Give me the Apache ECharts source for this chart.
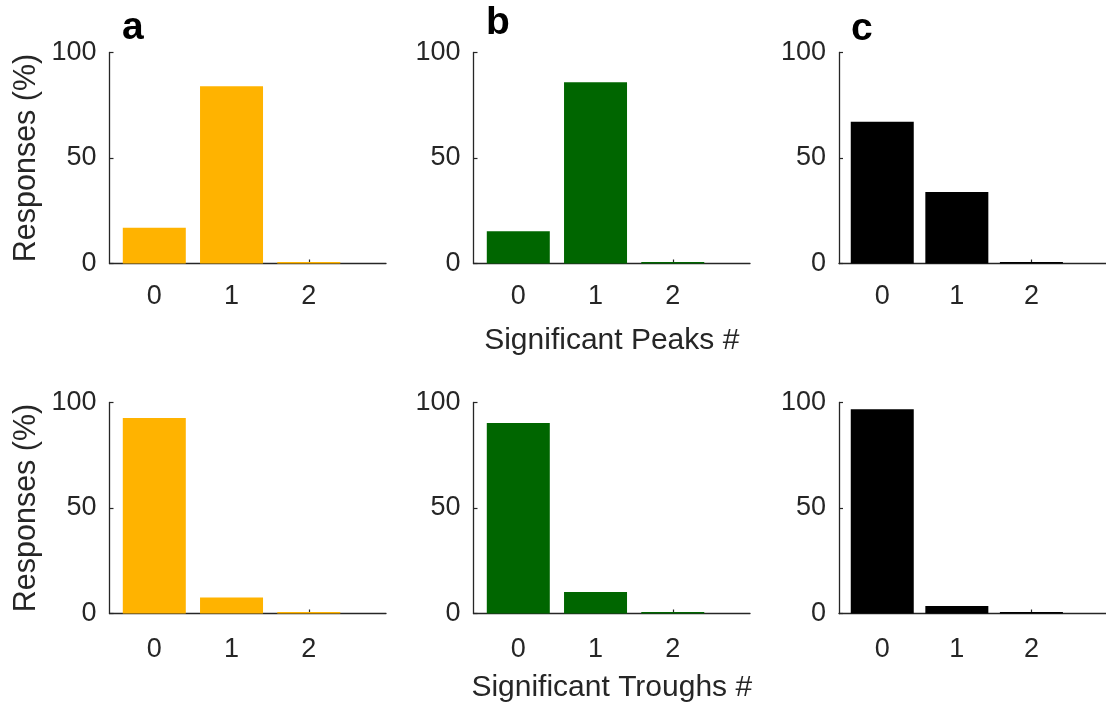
<!DOCTYPE html>
<html>
<head>
<meta charset="utf-8">
<title>Significant peaks and troughs</title>
<script src="https://cdn.jsdelivr.net/npm/echarts@6/dist/echarts.min.js"></script>
<style>
  html, body { margin: 0; padding: 0; background: #fff; }
  #chart { width: 1106px; height: 705px; }
</style>
</head>
<body>
<div id="chart"></div>
<script>
// Number of significant peaks / troughs per response (x) and share of responses in % (y)
const categories = [0, 1, 2];
const yTicks = [0, 50, 100];
const panelLetters = ['a', 'b', 'c'];
const yAxisTitle = 'Responses (%)';
const peaksTitle = 'Significant Peaks #';
const troughsTitle = 'Significant Troughs #';

const peaksA = [16.9, 84.0, 0];
const peaksB = [15.3, 85.9, 0];
const peaksC = [67.2, 33.9, 0];
const troughsA = [92.7, 7.6, 0];
const troughsB = [90.3, 10.2, 0];
const troughsC = [96.8, 3.6, 0];

const colors = ['#FFB300', '#006600', '#000000'];

const FONT = 'Liberation Sans, Arial, Helvetica, sans-serif';
const INK = '#262626';

// panel geometry (pixels)
const colLeft = [109.5, 473.5, 839];
const rowTop = [52.5, 402.5];
const gridW = 276.5;
const gridH = 211;
const tickLabelMargin = [20, 23];

const rows = [
  { series: [peaksA, peaksB, peaksC], xname: peaksTitle },
  { series: [troughsA, troughsB, troughsC], xname: troughsTitle }
];

const grid = [], xAxis = [], yAxis = [], series = [];
rows.forEach((row, r) => {
  row.series.forEach((vals, c) => {
    const idx = grid.length;
    grid.push({ left: colLeft[c], top: rowTop[r], width: gridW, height: gridH, containLabel: false });
    xAxis.push({
      type: 'value', gridIndex: idx, min: -0.58, max: 3,
      axisLine: { show: true, onZero: true, lineStyle: { color: INK, width: 1.3 } },
      axisTick: { show: true, inside: true, length: 4, customValues: categories, lineStyle: { color: INK, width: 1.2 } },
      axisLabel: { show: true, customValues: categories, color: INK, fontSize: 27, fontFamily: FONT, margin: tickLabelMargin[r] },
      splitLine: { show: false },
      name: c === 1 ? row.xname : '',
      nameLocation: 'middle', nameGap: r === 0 ? 62 : 59,
      nameTextStyle: { color: INK, fontSize: 30, fontFamily: FONT }
    });
    yAxis.push({
      type: 'value', gridIndex: idx, min: yTicks[0], max: yTicks[yTicks.length - 1], interval: 50,
      axisLine: { show: true, onZero: false, lineStyle: { color: INK, width: 1.3 } },
      axisTick: { show: true, inside: true, length: 4, lineStyle: { color: INK, width: 1.2 } },
      axisLabel: { color: INK, fontSize: 27, fontFamily: FONT, margin: 13 },
      splitLine: { show: false },
      name: c === 0 ? yAxisTitle : '',
      nameLocation: 'middle', nameGap: 67,
      nameTextStyle: { color: INK, fontSize: 30.5, fontFamily: FONT }
    });
    series.push({
      type: 'bar', xAxisIndex: idx, yAxisIndex: idx,
      barWidth: 63, barMinHeight: 1.5,
      itemStyle: { color: colors[c] },
      data: categories.map((k, i) => [k, vals[i]]),
      silent: true, animation: false
    });
  });
});

// bold panel letters above the top row (top of text box)
const letterPos = [[122, 9], [486, 4], [851, 9.5]];
const graphic = panelLetters.map((t, i) => ({
  type: 'text', x: letterPos[i][0], y: letterPos[i][1],
  style: { text: t, font: 'bold 39px ' + FONT, fill: '#000', textAlign: 'left', textVerticalAlign: 'top' }
}));

const chart = echarts.init(document.getElementById('chart'), null, { renderer: 'canvas' });
chart.setOption({
  animation: false,
  backgroundColor: '#fff',
  grid, xAxis, yAxis, series, graphic
});
</script>
</body>
</html>
